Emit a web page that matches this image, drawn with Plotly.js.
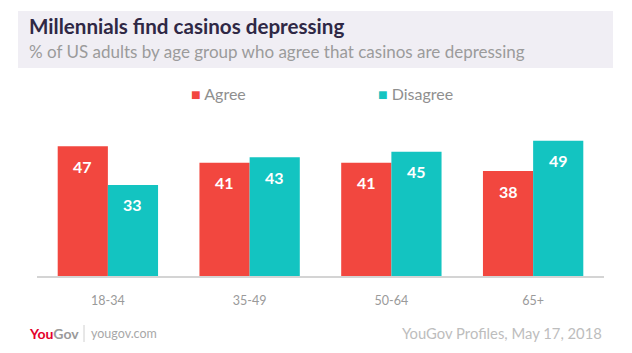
<!DOCTYPE html>
<html><head><meta charset="utf-8">
<script src="https://cdn.plot.ly/plotly-3.0.1.min.js"></script>
<style>html,body{margin:0;padding:0;background:#fff}#chart{width:632px;height:353px}</style>
</head><body><div id="chart"></div>
<script>
const categories = ["18-34", "35-49", "50-64", "65+"];
const seriesNames = ["Agree", "Disagree"];
const agreeValues = [47, 41, 41, 38];
const disagreeValues = [33, 43, 45, 49];
const titleText = "Millennials find casinos depressing";
const subtitleText = "% of US adults by age group who agree that casinos are depressing";
const sourceText = "YouGov Profiles, May 17, 2018";

const W = 632, H = 353;
const M = {l: 37, r: 28, t: 138, b: 77};
const PW = W - M.l - M.r, PH = H - M.t - M.b;
const px = x => (x - M.l) / PW;
const py = y => (H - M.b - y) / PH;

const RED = "#f2473f", TEAL = "#13c4c1";
const FONT = "Lato, 'Open Sans', sans-serif";

const traces = [
  {type: "bar", name: seriesNames[0], x: categories, y: agreeValues, marker: {color: RED}, hoverinfo: "none"},
  {type: "bar", name: seriesNames[1], x: categories, y: disagreeValues, marker: {color: TEAL}, hoverinfo: "none"}
];

const ann = [];
const shift = 25;
[agreeValues, disagreeValues].forEach((vals, si) => {
  vals.forEach((v, i) => {
    ann.push({x: categories[i], y: v, xref: "x", yref: "y", text: "<b>" + v + "</b>",
      showarrow: false, xshift: si === 0 ? -shift : shift, yshift: -20, yanchor: "middle",
      font: {family: FONT, size: 16, color: "#ffffff"}});
  });
});
// title & subtitle
ann.push({x: px(27), y: py(26), xref: "paper", yref: "paper", xanchor: "left", yanchor: "middle",
  text: "<b>" + titleText + "</b>", showarrow: false, font: {family: FONT, size: 20.6, color: "#2f2845"}});
ann.push({x: px(27), y: py(52), xref: "paper", yref: "paper", xanchor: "left", yanchor: "middle",
  text: subtitleText, showarrow: false, font: {family: FONT, size: 17, color: "#9b9b9b"}});
// legend
ann.push({x: px(189), y: py(94), xref: "paper", yref: "paper", xanchor: "left", yanchor: "middle",
  text: '<span style="color:' + RED + '">■</span> ' + seriesNames[0], showarrow: false,
  font: {family: FONT, size: 16, color: "#8f8f8f"}});
ann.push({x: px(376), y: py(94), xref: "paper", yref: "paper", xanchor: "left", yanchor: "middle",
  text: '<span style="color:' + TEAL + '">■</span> ' + seriesNames[1], showarrow: false,
  font: {family: FONT, size: 16, color: "#8f8f8f"}});
// footer
ann.push({x: px(27), y: py(333), xref: "paper", yref: "paper", xanchor: "left", yanchor: "middle",
  text: '<b><span style="color:#e4002b">You</span><span style="color:#9a9a9a">Gov</span></b>', showarrow: false,
  font: {family: FONT, size: 14, color: "#9a9a9a"}});
ann.push({x: px(89), y: py(333), xref: "paper", yref: "paper", xanchor: "left", yanchor: "middle",
  text: "yougov.com", showarrow: false, font: {family: FONT, size: 12.5, color: "#a8a8a8"}});
ann.push({x: px(604), y: py(333), xref: "paper", yref: "paper", xanchor: "right", yanchor: "middle",
  text: sourceText, showarrow: false, font: {family: FONT, size: 14.8, color: "#bdbdbd"}});

const shapes = [
  {type: "rect", xref: "paper", yref: "paper", x0: px(18), x1: px(613), y0: py(11), y1: py(68),
   fillcolor: "#f0eef4", line: {width: 0}, layer: "below"},
  {type: "line", xref: "paper", yref: "paper", x0: px(84), x1: px(84), y0: py(325), y1: py(342),
   line: {color: "#d0d0d0", width: 1}}
];

const layout = {
  width: W, height: H, margin: M, paper_bgcolor: "#fff", plot_bgcolor: "#fff",
  showlegend: false, barmode: "group", bargap: 0.292, bargroupgap: 0,
  xaxis: {showgrid: false, zeroline: false, showline: true, linecolor: "#d4d4d4", linewidth: 1.5,
    ticks: "", ticklabelstandoff: 12, tickfont: {family: FONT, size: 12.5, color: "#9a9a9a"}, fixedrange: true},
  yaxis: {range: [0, 50], visible: false, fixedrange: true},
  annotations: ann, shapes: shapes, font: {family: FONT}
};
Plotly.newPlot("chart", traces, layout, {displayModeBar: false, staticPlot: true});
</script></body></html>
